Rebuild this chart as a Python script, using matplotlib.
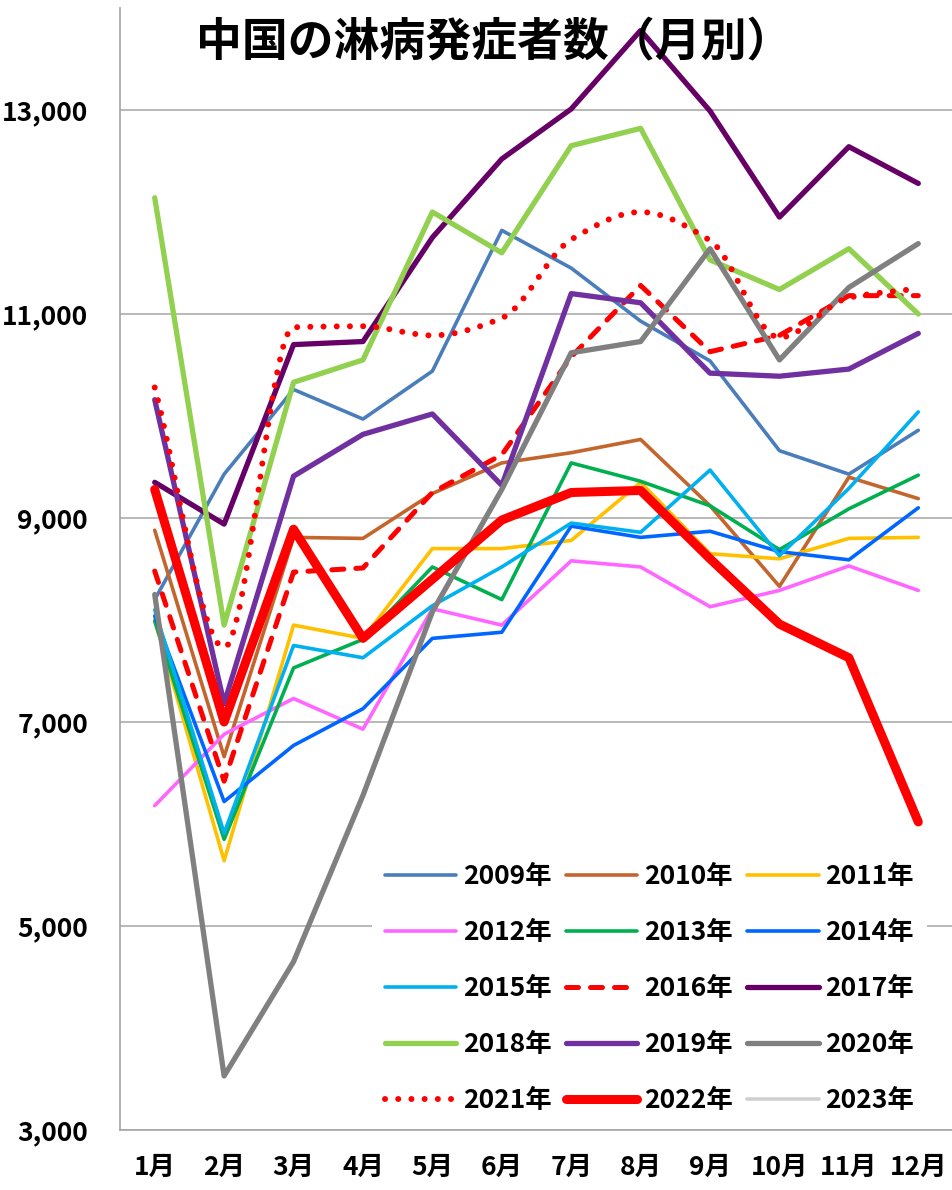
import matplotlib
matplotlib.use("Agg")
import matplotlib.pyplot as plt
from matplotlib.lines import Line2D
from matplotlib.path import Path
from matplotlib.patches import PathPatch
from matplotlib.ticker import FuncFormatter
import numpy as np

plt.rcParams['font.family'] = ['Noto Sans CJK JP', 'DejaVu Sans']
plt.rcParams['font.weight'] = 'bold'

# --- data ---
months = ['1月', '2月', '3月', '4月', '5月', '6月', '7月', '8月', '9月', '10月', '11月', '12月']
years = ['2009年', '2010年', '2011年', '2012年', '2013年', '2014年', '2015年',
         '2016年', '2017年', '2018年', '2019年', '2020年', '2021年', '2022年', '2023年']

y2009 = [8200, 9430, 10260, 9970, 10440, 11820, 11450, 10930, 10540, 9660, 9430, 9860]
y2010 = [8880, 6660, 8810, 8800, 9240, 9540, 9640, 9770, 9120, 8330, 9400, 9190]
y2011 = [8000, 5640, 7950, 7820, 8700, 8700, 8780, 9350, 8650, 8600, 8800, 8810]
y2012 = [6180, 6880, 7230, 6930, 8110, 7950, 8580, 8520, 8130, 8290, 8530, 8290]
y2013 = [7990, 5850, 7530, 7810, 8520, 8200, 9540, 9360, 9120, 8690, 9090, 9420]
y2014 = [8040, 6220, 6770, 7130, 7820, 7880, 8920, 8810, 8870, 8670, 8590, 9100]
y2015 = [8100, 5910, 7750, 7630, 8140, 8520, 8950, 8860, 9470, 8630, 9290, 10040]
y2016 = [8480, 6420, 8470, 8510, 9250, 9620, 10580, 11280, 10630, 10790, 11180, 11180]
y2017 = [9350, 8940, 10700, 10730, 11750, 12520, 13010, 13780, 12990, 11950, 12640, 12280]
y2018 = [12140, 7950, 10330, 10550, 12000, 11600, 12650, 12820, 11530, 11240, 11640, 11000]
y2019 = [10160, 7180, 9410, 9820, 10020, 9320, 11200, 11110, 10420, 10390, 10460, 10810]
y2020 = [8250, 3530, 4650, 6280, 8080, 9280, 10620, 10730, 11640, 10550, 11260, 11690]
y2021 = [10280, 7730, 10870, 10880, 10790, 10960, 11730, 12000, 11720, 10770, 11160, 11250]
y2022 = [9280, 7000, 8890, 7820, 8400, 8980, 9250, 9270, 8600, 7960, 7630, 6020]
y2023 = []

series = [y2009, y2010, y2011, y2012, y2013, y2014, y2015,
          y2016, y2017, y2018, y2019, y2020, y2021, y2022, y2023]

# --- styles ---
styles = {
    '2009年': dict(color='#4A7EBB', lw=2.6),
    '2010年': dict(color='#C4652E', lw=2.6),
    '2011年': dict(color='#FFC000', lw=2.6),
    '2012年': dict(color='#FF66FF', lw=2.6),
    '2013年': dict(color='#00B050', lw=2.6),
    '2014年': dict(color='#0066FF', lw=2.6),
    '2015年': dict(color='#00B0F0', lw=2.6),
    '2016年': dict(color='#FF0000', lw=3.6, ls=(0, (2.4, 2.4))),
    '2017年': dict(color='#660066', lw=3.8),
    '2018年': dict(color='#92D050', lw=3.8),
    '2019年': dict(color='#7030A0', lw=3.8),
    '2020年': dict(color='#808080', lw=3.8),
    '2021年': dict(color='#FF0000', lw=4.3, ls=(0, (0.01, 2.2)), smooth=True),
    '2022年': dict(color='#FF0000', lw=6.5),
    '2023年': dict(color='#D0D0D0', lw=2.6),
}


def smooth_path(xs, ys):
    """monotone cubic through the points, as bezier segments"""
    x = np.asarray(xs, float)
    y = np.asarray(ys, float)
    d = np.diff(y) / np.diff(x)
    m = np.empty_like(y)
    m[0], m[-1] = d[0], d[-1]
    for i in range(1, len(y) - 1):
        if d[i - 1] * d[i] <= 0:
            m[i] = 0
        else:
            m[i] = 2 / (1 / d[i - 1] + 1 / d[i])
    verts = [(x[0], y[0])]
    codes = [Path.MOVETO]
    for i in range(len(x) - 1):
        h = x[i + 1] - x[i]
        verts += [(x[i] + h / 3, y[i] + m[i] * h / 3),
                  (x[i + 1] - h / 3, y[i + 1] - m[i + 1] * h / 3),
                  (x[i + 1], y[i + 1])]
        codes += [Path.CURVE4] * 3
    return Path(verts, codes)


W, H = 953, 1190
fig = plt.figure(figsize=(W / 100, H / 100), dpi=100)
ax = fig.add_axes([120 / W, 60 / H, 833 / W, 1122 / H])

x = np.arange(len(months))
handles = []
for name, vals in zip(years, series):
    st = styles[name]
    ls = st.get('ls', '-')
    if len(vals) and st.get('smooth'):
        patch = PathPatch(smooth_path(x[:len(vals)], vals), fill=False,
                          edgecolor=st['color'], lw=st['lw'], linestyle=ls,
                          capstyle='round', joinstyle='round', zorder=3)
        ax.add_patch(patch)
    elif len(vals):
        ax.plot(x[:len(vals)], vals, color=st['color'], lw=st['lw'], linestyle=ls,
                solid_joinstyle='round', dash_capstyle='round', solid_capstyle='round',
                zorder=3)
    handles.append(Line2D([], [], color=st['color'], lw=st['lw'], linestyle=ls,
                          dash_capstyle='round', solid_capstyle='round'))

ax.set_xlim(-0.5, 11.5)
ax.set_ylim(3000, 14000)
ax.set_xticks(x)
ax.set_xticklabels(months)
ax.set_yticks([3000, 5000, 7000, 9000, 11000, 13000])
ax.yaxis.set_major_formatter(FuncFormatter(lambda v, p: f'{int(v):,}'))
ax.tick_params(axis='y', length=0, pad=23, labelsize=19)
ax.tick_params(axis='x', length=0, pad=17, labelsize=19)
ax.yaxis.grid(True, color='#A6A6A6', lw=1.1)
ax.set_axisbelow(True)
for s in ['top', 'right']:
    ax.spines[s].set_visible(False)
for s in ['left', 'bottom']:
    ax.spines[s].set_color('#A6A6A6')
    ax.spines[s].set_linewidth(1.2)

# legend is filled column-wise, reorder so it reads row-wise
nrow, ncol = 5, 3
order = [r * ncol + c for c in range(ncol) for r in range(nrow)]
leg = ax.legend([handles[i] for i in order], [years[i] for i in order],
                ncol=ncol, loc='upper left', bbox_to_anchor=(372 / W, 1 - 850 / H),
                bbox_transform=fig.transFigure, fontsize=19, frameon=True,
                facecolor='white', edgecolor='none', framealpha=1, fancybox=False,
                handlelength=2.7, handletextpad=0.25, columnspacing=0.55,
                labelspacing=1.1, borderpad=0.5, borderaxespad=0)
leg.set_zorder(5)

fig.text(494 / W, 1 - 42 / H, '中国の淋病発症者数（月別）', ha='center', va='center',
         fontsize=33, fontweight='bold')

fig.savefig('out.png', dpi=100)
